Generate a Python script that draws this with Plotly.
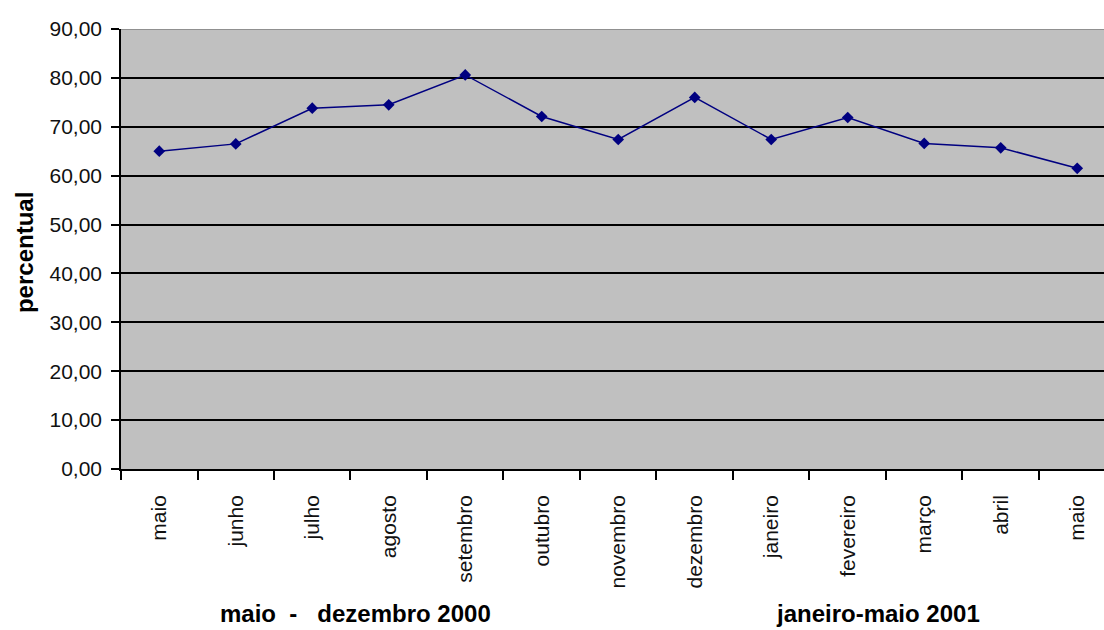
import plotly.graph_objects as go

# Monthly percentages, May 2000 – May 2001
months = ["maio", "junho", "julho", "agosto", "setembro", "outubro", "novembro",
          "dezembro", "janeiro", "fevereiro", "março", "abril", "maio"]
values = [65.0, 66.5, 73.8, 74.5, 80.6, 72.1, 67.4, 76.0, 67.4, 71.9, 66.6, 65.7, 61.5]
y_ticks = [0, 10, 20, 30, 40, 50, 60, 70, 80, 90]
period_labels = ["maio\u00a0\u00a0-\u00a0\u00a0\u00a0dezembro 2000", "janeiro-maio 2001"]
y_title = "percentual"

xpos = list(range(len(months)))
boundaries = [i - 0.5 for i in range(len(months) + 1)]

FONT = "Liberation Sans, Arial, sans-serif"

fig = go.Figure()
fig.add_trace(go.Scatter(
    x=xpos, y=values, mode="lines+markers",
    line=dict(color="#000080", width=1.5),
    marker=dict(symbol="diamond", size=9, color="#000080"),
    showlegend=False, cliponaxis=False,
))

fig.update_layout(
    width=1104, height=630,
    margin=dict(l=121, r=0, t=29, b=161),
    paper_bgcolor="white", plot_bgcolor="#C0C0C0",
    separators=",.",
    font=dict(family=FONT, size=21, color="#111"),
    xaxis=dict(
        range=[-0.5, 12.35],
        tickmode="array", tickvals=xpos, ticktext=months,
        tickangle=-90, ticks="", showgrid=False, zeroline=False,
        showline=True, linecolor="black", linewidth=1.5,
        ticklabelstandoff=16,
        tickfont=dict(family=FONT, size=21, color="#111"),
        minor=dict(tickmode="array", tickvals=boundaries, ticks="outside",
                   ticklen=9, tickwidth=1.5, tickcolor="black", showgrid=False),
    ),
    yaxis=dict(
        range=[0, 90], tickmode="array", tickvals=y_ticks, tickformat=".2f",
        ticks="outside", ticklen=8, tickwidth=1.5, tickcolor="black",
        showgrid=True, gridcolor="black", gridwidth=1.5, zeroline=False,
        showline=True, linecolor="black", linewidth=1.5,
        ticklabelstandoff=5,
        tickfont=dict(family=FONT, size=21, color="#111"),
    ),
)

# top border of the plotting area
fig.add_shape(type="line", xref="paper", yref="y", x0=0, x1=1, y0=90, y1=90,
              line=dict(color="#808080", width=1.5))

fig.add_annotation(text="<b>%s</b>" % y_title, xref="paper", yref="paper",
                   x=-0.0987, y=0.493, textangle=-90, showarrow=False,
                   xanchor="center", yanchor="middle",
                   font=dict(family=FONT, size=24, color="black"))
for label, cx in zip(period_labels, [355, 878]):
    fig.add_annotation(text="<b>%s</b>" % label, xref="paper", yref="paper",
                       x=(cx - 121) / 983, y=-0.3636, showarrow=False,
                       xanchor="center", yanchor="bottom",
                       font=dict(family=FONT, size=24, color="black"))

fig.write_html("out.html")
